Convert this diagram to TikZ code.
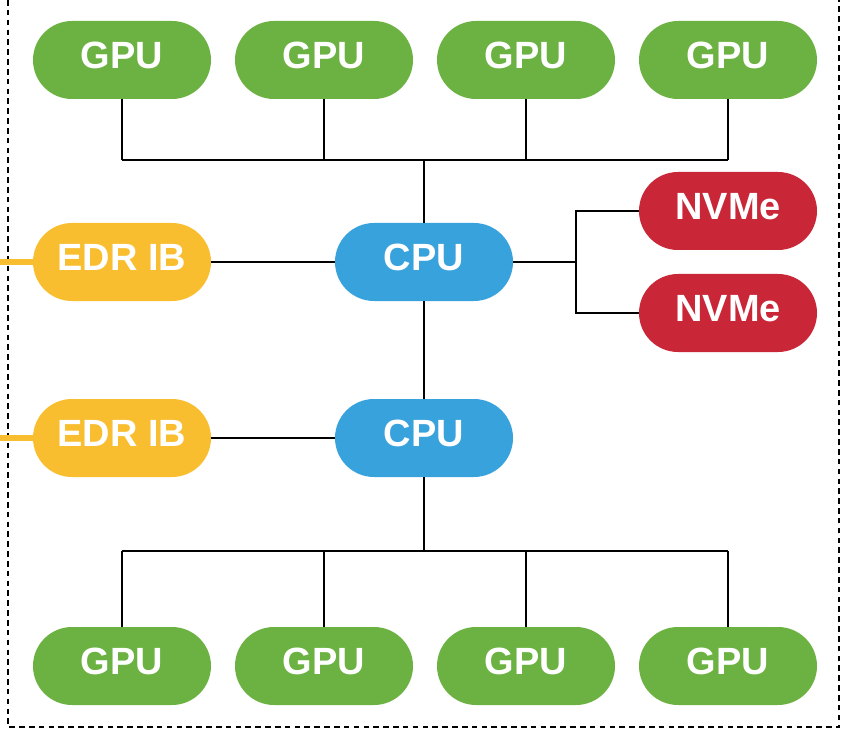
\documentclass[tikz,border=0pt]{standalone}
\usepackage{fontspec}
\setmainfont{Liberation Sans}
\usepackage{tikz}
\usetikzlibrary{positioning, shapes.misc}

\definecolor{gpugreen}{RGB}{108,178,67}
\definecolor{cpublue}{RGB}{56,162,220}
\definecolor{ibyellow}{RGB}{249,190,48}
\definecolor{nvmered}{RGB}{201,38,56}

\begin{document}
\begin{tikzpicture}[on grid, node distance=5.05cm,
	unit/.style={rounded rectangle, minimum width=4.45cm, minimum height=1.95cm, inner sep=0pt,
		text depth=0.25cm, text=white, font=\fontsize{27}{30}\selectfont\bfseries},
	gpu/.style={unit, fill=gpugreen},
	cpu/.style={unit, fill=cpublue},
	ib/.style={unit, fill=ibyellow},
	nvme/.style={unit, fill=nvmered},
	link/.style={line width=1.4pt, black},
	iblink/.style={line width=4.2pt, ibyellow}]
			\useasboundingbox (0,0) rectangle (21.025,-18.225);
			\draw[line width=1pt, dash pattern=on 4pt off 3pt] (0.2,0) -- (0.2,-18.175) -- (20.975,-18.175) -- (20.975,0);
			\node[gpu] (gpu1) at (3.05,-1.5) {GPU};
			\node[gpu] (gpu2) [right=of gpu1] {GPU};
			\node[gpu] (gpu3) [right=of gpu2] {GPU};
			\node[gpu] (gpu4) [right=of gpu3] {GPU};
			\node[ib] (ib1) [below=5.05cm of gpu1] {EDR IB};
			\node[cpu] (cpu1) [right=7.55cm of ib1] {CPU};
			\node[ib] (ib2) [below=4.4cm of ib1] {EDR IB};
			\node[cpu] (cpu2) [right=7.55cm of ib2] {CPU};
			\node[nvme] (nvme1) [below=3.775cm of gpu4] {NVMe};
			\node[nvme] (nvme2) [below=2.55cm of nvme1] {NVMe};
			\node[gpu] (gpu5) [below=5.7cm of ib2] {GPU};
			\node[gpu] (gpu6) [right=of gpu5] {GPU};
			\node[gpu] (gpu7) [right=of gpu6] {GPU};
			\node[gpu] (gpu8) [right=of gpu7] {GPU};
			\coordinate (topbus) at (cpu1 |- 0,-4);
			\coordinate (botbus) at (cpu2 |- 0,-13.775);
			\coordinate (split) at (cpu1 -| 14.4,0);
			\foreach \i in {1,...,4}
				\draw[link] (gpu\i.south) -- (gpu\i |- topbus);
			\foreach \i in {5,...,8}
				\draw[link] (gpu\i.north) -- (gpu\i |- botbus);
			\draw[link] (gpu1 |- topbus) -- (gpu4 |- topbus);
			\draw[link] (gpu5 |- botbus) -- (gpu8 |- botbus);
			\draw[link] (topbus) -- (cpu1.north);
			\draw[link] (cpu2.south) -- (botbus);
			\draw[link] (cpu1.south) -- (cpu2.north);
			\draw[link] (ib1.east) -- (cpu1.west);
			\draw[link] (ib2.east) -- (cpu2.west);
			\draw[link] (cpu1.east) -- (split);
			\draw[link] (nvme1.west) -| (split) |- (nvme2.west);
			\draw[iblink] (ib1.west -| 0,0) -- (ib1.west);
			\draw[iblink] (ib2.west -| 0,0) -- (ib2.west);
		\end{tikzpicture}
\end{document}
